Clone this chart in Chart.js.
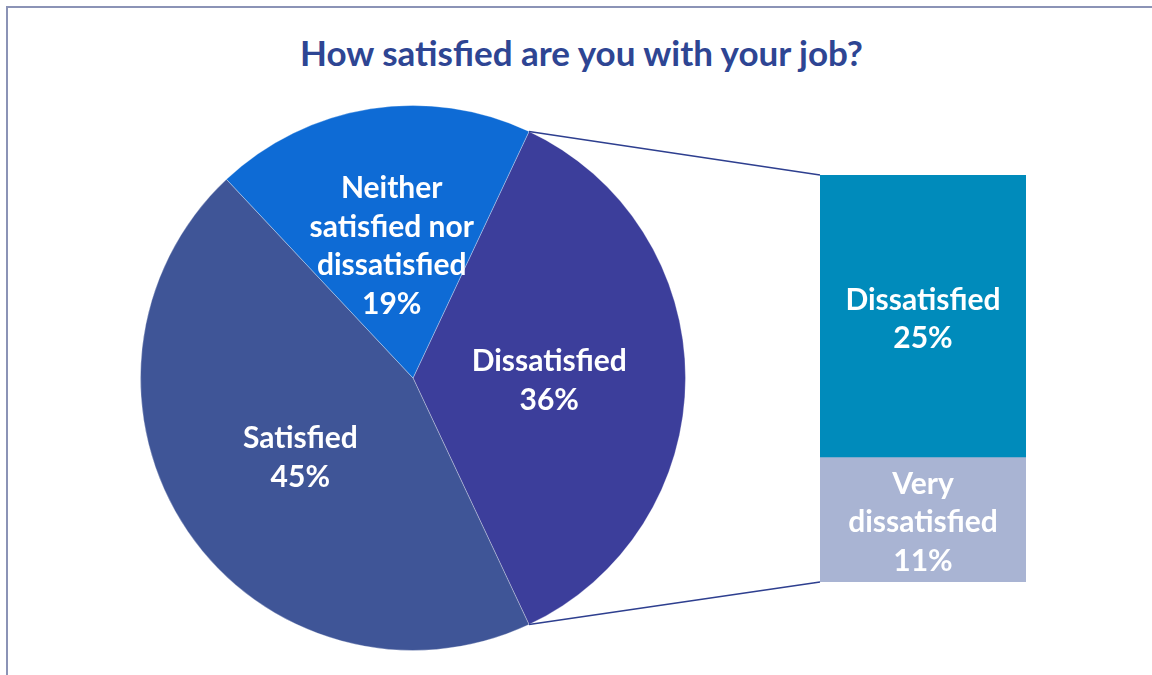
<!DOCTYPE html>
<html>
<head>
<meta charset="utf-8">
<script src="https://cdn.jsdelivr.net/npm/chart.js@4.4.1/dist/chart.umd.min.js"></script>
<style>
  html, body { margin: 0; background: #fff; }
  #frame { position: relative; width: 1152px; height: 675px; overflow: hidden; }
  #edge {
    position: absolute; left: 6px; top: 6px; width: 2000px; height: 2000px;
    border-left: 2px solid #8b93b6; border-top: 2px solid #8b93b6;
  }
  #title {
    position: absolute; left: 0; width: 1163px; top: 32px;
    text-align: center; color: #2e4593; line-height: 40px;
    font: bold 35px/40px Lato, "Open Sans", sans-serif;
  }
  canvas { position: absolute; }
  #pie { left: 140px; top: 105px; }
  #bar { left: 820px; top: 175px; }
  #links { left: 0; top: 0; pointer-events: none; }
</style>
</head>
<body>
<div id="frame">
  <div id="edge"></div>
  <div id="title">How satisfied are you with your job?</div>
  <canvas id="pie" width="546" height="546"></canvas>
  <canvas id="bar" width="206" height="407"></canvas>
  <canvas id="links" width="1152" height="675"></canvas>
</div>
<script>
const PIE_LABELS = ["Dissatisfied", "Satisfied", "Neither\nsatisfied nor\ndissatisfied"];
const PIE_VALUES = [36, 45, 19];
const PIE_COLORS = ["#3c3e9b", "#3f5597", "#0e6bd5"];

// breakdown of the "Dissatisfied" slice, bottom segment first
const BAR_LABELS = ["Very\ndissatisfied", "Dissatisfied"];
const BAR_VALUES = [11, 25];
const BAR_COLORS = ["#a9b4d3", "#008bbb"];

const FONT = "bold 30px Lato, 'Open Sans', sans-serif";
const LINE_H = 38.5;
const LINK_COLOR = "#2e3f8f";

// white text centred in each slice / segment: label lines then the percentage
const innerLabels = {
  id: "innerLabels",
  afterDatasetsDraw(chart, args, opts) {
    const ctx = chart.ctx;
    ctx.save();
    ctx.font = FONT;
    ctx.fillStyle = "#fff";
    ctx.textAlign = "center";
    ctx.textBaseline = "middle";
    chart.data.datasets.forEach((ds, di) => {
      chart.getDatasetMeta(di).data.forEach((el, i) => {
        const value = ds.data[i];
        const name = opts.names(di, i);
        const lines = name.split("\n").concat(value + "%");
        const c = el.getCenterPoint();
        const y0 = c.y + 3 - (lines.length - 1) * LINE_H / 2;
        lines.forEach((t, k) => ctx.fillText(t, c.x, y0 + k * LINE_H));
      });
    });
    ctx.restore();
  },
};

const pieChart = new Chart(document.getElementById("pie"), {
  type: "pie",
  data: {
    labels: PIE_LABELS,
    datasets: [{
      data: PIE_VALUES,
      backgroundColor: PIE_COLORS,
      borderColor: "rgba(255,255,255,0.3)",
      borderWidth: 1,
    }],
  },
  options: {
    responsive: false,
    animation: false,
    // keep the broken-out slice centred on the right-hand side
    rotation: 90 - (PIE_VALUES[0] / 100) * 180,
    plugins: {
      legend: { display: false },
      tooltip: { enabled: false },
      innerLabels: { names: (di, i) => PIE_LABELS[i] },
    },
  },
  plugins: [innerLabels],
});

// connector lines from the slice edges to the bar corners
const linksPlugin = {
  id: "links",
  afterDraw(chart) {
    const cv = document.getElementById("links");
    const ctx = cv.getContext("2d");
    ctx.clearRect(0, 0, cv.width, cv.height);

    const pieCanvas = pieChart.canvas;
    const arc = pieChart.getDatasetMeta(0).data[0];
    const { x, y, startAngle, endAngle, outerRadius } =
      arc.getProps(["x", "y", "startAngle", "endAngle", "outerRadius"], true);
    const px = pieCanvas.offsetLeft + x;
    const py = pieCanvas.offsetTop + y;

    const top = chart.getDatasetMeta(1).data[0];
    const bottom = chart.getDatasetMeta(0).data[0];
    const bx = chart.canvas.offsetLeft + top.x - top.width / 2;
    const by = chart.canvas.offsetTop;

    ctx.strokeStyle = LINK_COLOR;
    ctx.lineWidth = 1.6;
    ctx.beginPath();
    ctx.moveTo(px + outerRadius * Math.cos(startAngle), py + outerRadius * Math.sin(startAngle));
    ctx.lineTo(bx, by + top.y);
    ctx.moveTo(px + outerRadius * Math.cos(endAngle), py + outerRadius * Math.sin(endAngle));
    ctx.lineTo(bx, by + bottom.base);
    ctx.stroke();
  },
};

new Chart(document.getElementById("bar"), {
  type: "bar",
  data: {
    labels: [""],
    datasets: BAR_VALUES.map((v, i) => ({
      label: BAR_LABELS[i],
      data: [v],
      backgroundColor: BAR_COLORS[i],
      borderWidth: 0,
      barPercentage: 1,
      categoryPercentage: 1,
    })),
  },
  options: {
    responsive: false,
    animation: false,
    layout: { padding: 0 },
    scales: {
      x: { stacked: true, display: false },
      y: { stacked: true, display: false, min: 0, max: PIE_VALUES[0] },
    },
    plugins: {
      legend: { display: false },
      tooltip: { enabled: false },
      innerLabels: { names: (di) => BAR_LABELS[di] },
    },
  },
  plugins: [innerLabels, linksPlugin],
});
</script>
</body>
</html>
